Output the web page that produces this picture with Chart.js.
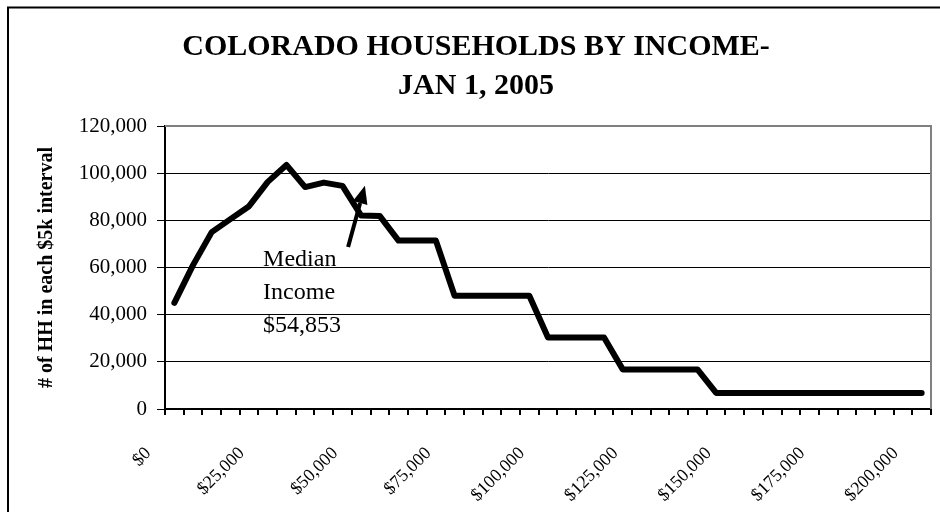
<!DOCTYPE html>
<html>
<head>
<meta charset="utf-8">
<script src="https://cdn.jsdelivr.net/npm/chart.js@4.4.1/dist/chart.umd.min.js"></script>
<style>
    html, body { margin: 0; padding: 0; background: #fff; }
    #wrap { width: 940px; height: 512px; }
</style>
</head>
<body>
<div id="wrap"><canvas id="incomeChart"></canvas></div>
<script>
const incomeBrackets = [
    0, 5000, 10000, 15000, 20000, 25000, 30000, 35000, 40000, 45000,
    50000, 55000, 60000, 65000, 70000, 75000, 80000, 85000, 90000, 95000,
    100000, 105000, 110000, 115000, 120000, 125000, 130000, 135000, 140000, 145000,
    150000, 155000, 160000, 165000, 170000, 175000, 180000, 185000, 190000, 195000,
    200000
];

const households = [
    45000, 61000, 75000, 80500, 86000, 96300, 103500, 94100, 96000, 94600,
    82000, 81800, 71400, 71400, 71400, 48000, 48000, 48000, 48000, 48000,
    30300, 30300, 30300, 30300, 16800, 16800, 16800, 16800, 16800, 6800,
    6800, 6800, 6800, 6800, 6800, 6800, 6800, 6800, 6800, 6800,
    6800
];

const labeledBrackets = [0, 25000, 50000, 75000, 100000, 125000, 150000, 175000, 200000];
const yTicks = [0, 20000, 40000, 60000, 80000, 100000, 120000];

const medianText = ['Median', 'Income', '$54,853'];

const serif = '"Liberation Serif", "Times New Roman", serif';

// frame, plot border and the median note
const decorations = {
    id: 'decorations',
    beforeDraw(chart) {
        const ctx = chart.ctx;
        ctx.save();
        ctx.fillStyle = '#fff';
        ctx.fillRect(0, 0, chart.width, chart.height);
        ctx.strokeStyle = '#000';
        ctx.lineWidth = 2;
        ctx.beginPath();
        ctx.moveTo(8, chart.height);
        ctx.lineTo(8, 7.5);
        ctx.lineTo(chart.width, 7.5);
        ctx.stroke();
        ctx.restore();
    },
    beforeDatasetsDraw(chart) {
        const { ctx, chartArea: a } = chart;
        ctx.save();
        ctx.strokeStyle = '#808080';
        ctx.lineWidth = 2;
        ctx.beginPath();
        ctx.moveTo(a.left, a.top);
        ctx.lineTo(a.right, a.top);
        ctx.lineTo(a.right, a.bottom);
        ctx.stroke();
        ctx.restore();
    },
    afterDatasetsDraw(chart) {
        const { ctx, scales: { x, y } } = chart;
        ctx.save();
        ctx.fillStyle = '#000';
        ctx.font = '24px ' + serif;
        ctx.textBaseline = 'alphabetic';
        const tx = x.getPixelForValue(4.75);
        const ty = y.getPixelForValue(60600);
        medianText.forEach((t, i) => ctx.fillText(t, tx, ty + i * 33));

        // arrow pointing at the median
        const x0 = x.getPixelForValue(9.3), y0 = y.getPixelForValue(68700);
        const x1 = x.getPixelForValue(10.2), y1 = y.getPixelForValue(94700);
        const ang = Math.atan2(y1 - y0, x1 - x0);
        const headLen = 18, headHalf = 7.5;
        const bx = x1 - headLen * Math.cos(ang), by = y1 - headLen * Math.sin(ang);
        ctx.strokeStyle = '#000';
        ctx.lineWidth = 4;
        ctx.beginPath();
        ctx.moveTo(x0, y0);
        ctx.lineTo(bx, by);
        ctx.stroke();
        ctx.beginPath();
        ctx.moveTo(x1, y1);
        ctx.lineTo(bx + headHalf * Math.sin(ang), by - headHalf * Math.cos(ang));
        ctx.lineTo(bx - headHalf * Math.sin(ang), by + headHalf * Math.cos(ang));
        ctx.closePath();
        ctx.fill();
        ctx.restore();
    }
};

new Chart(document.getElementById('incomeChart'), {
    type: 'line',
    data: {
        labels: incomeBrackets,
        datasets: [{
            data: households,
            borderColor: '#000',
            borderWidth: 6,
            borderCapStyle: 'round',
            borderJoinStyle: 'round',
            pointRadius: 0,
            tension: 0,
            fill: false
        }]
    },
    options: {
        responsive: true,
        maintainAspectRatio: false,
        animation: false,
        layout: { padding: { left: 21, right: 9, top: 28, bottom: 0 } },
        plugins: {
            legend: { display: false },
            tooltip: { enabled: false },
            title: {
                display: true,
                text: ['COLORADO HOUSEHOLDS BY INCOME-', 'JAN 1, 2005'],
                color: '#000',
                font: { family: serif, size: 30, weight: 'bold', lineHeight: 1.3 },
                padding: { top: 0, bottom: 20 }
            }
        },
        scales: {
            x: {
                offset: true,
                grid: {
                    offset: true,
                    drawOnChartArea: false,
                    color: '#000',
                    lineWidth: 2,
                    tickLength: 6
                },
                border: { color: '#000', width: 2 },
                ticks: {
                    autoSkip: false,
                    minRotation: 45,
                    maxRotation: 45,
                    labelOffset: -26,
                    padding: 28,
                    color: '#000',
                    font: { family: serif, size: 18 },
                    callback: (v, i) => labeledBrackets.includes(incomeBrackets[i])
                        ? '$' + incomeBrackets[i].toLocaleString('en-US') : ''
                },
                afterFit: s => {
                    s.height = 103;
                    s.paddingLeft = 0;
                    s.paddingRight = 0;
                }
            },
            y: {
                min: 0,
                max: 120000,
                afterBuildTicks: s => { s.ticks = yTicks.map(v => ({ value: v })); },
                grid: { color: '#000', lineWidth: 1, tickLength: 8 },
                border: { color: '#000', width: 2 },
                ticks: {
                    padding: 10,
                    color: '#000',
                    font: { family: serif, size: 21 },
                    callback: v => v.toLocaleString('en-US')
                },
                title: {
                    display: true,
                    text: '# of HH in each $5k interval',
                    color: '#000',
                    font: { family: serif, size: 20, weight: 'bold', lineHeight: 1.2 },
                    padding: { top: 14, bottom: 0 }
                },
                afterFit: s => { s.width = 144; }
            }
        }
    },
    plugins: [decorations]
});
</script>
</body>
</html>
